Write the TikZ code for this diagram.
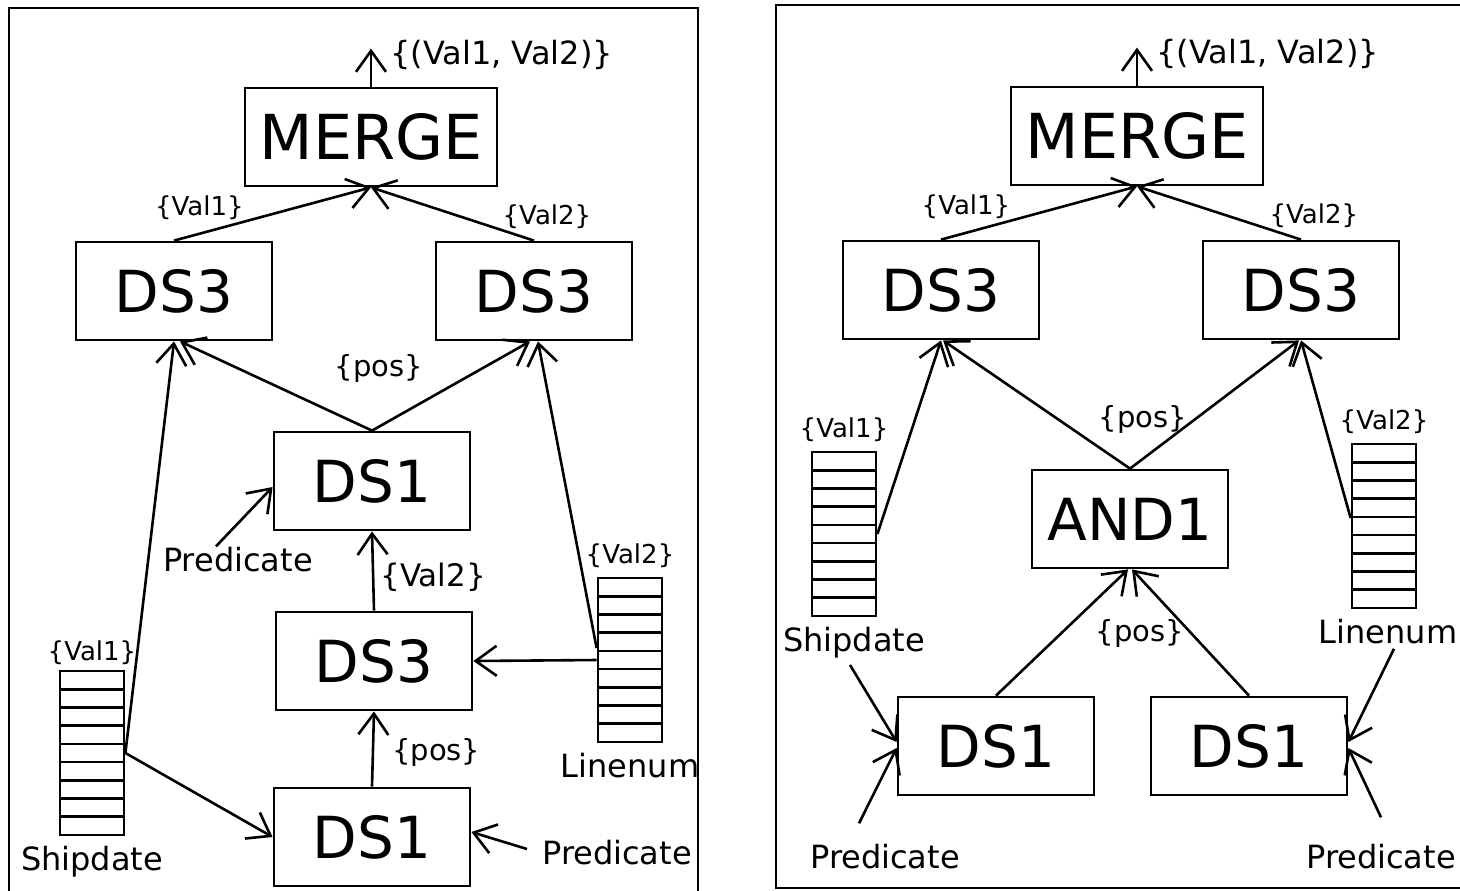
\documentclass[tikz,border=0pt]{standalone}
\usepackage{fontspec}
\setmainfont{DejaVu Sans}
\usepackage{tikz}
\usetikzlibrary{arrows.meta,positioning,calc}

\begin{document}
\begin{tikzpicture}[
    x = 0.5pt, y = -0.5pt,
    >={Straight Barb[length=10.5pt,width=15pt,line width=1.3pt]},
    line width = 1.3pt,
    op/.style = {draw, rectangle, line width=1.4pt, minimum width=98pt, minimum height=49pt,
                 inner sep=0pt, font=\fontsize{29}{30}\selectfont},
    lbl/.style = {inner sep=1pt, font=\fontsize{13}{15}\selectfont},
    poslbl/.style = {inner sep=1pt, font=\fontsize{14.5}{16}\selectfont},
    outlbl/.style = {inner sep=1pt, font=\fontsize{16}{18}\selectfont},
    colname/.style = {inner sep=1pt, font=\fontsize{16}{18}\selectfont},
    column/.style = {draw, line width=1.4pt, minimum width=32pt, minimum height=82pt, inner sep=0pt,
      path picture={
        \foreach \i in {1,...,8}
          \draw[line width=1.3pt]
            ($(path picture bounding box.north west)!\i/9!(path picture bounding box.south west)$) --
            ($(path picture bounding box.north east)!\i/9!(path picture bounding box.south east)$);
      }},
  ]
    \useasboundingbox (0,0) rectangle (1460,890);

    % left plan
    \draw[line width=1.2pt] (9,8) rectangle (698,900);

    \node[op, minimum width=126pt, font=\fontsize{31}{32}\selectfont] (merge) at (371,137) {MERGE};
    \node[op] (ds3l) at (174,291) {DS3};
    \node[op] (ds3r) at (534,291) {DS3};
    \node[op] (ds1u) at (372,481) {DS1};
    \node[op] (ds3m) at (374,661) {DS3};
    \node[op] (ds1b) at (372,837) {DS1};

    \node[column] (sd) at (92,753) {};
    \node[lbl, above=1pt of sd] {\{Val1\}};
    \node[colname, below=3pt of sd] (sdname) {Shipdate};
    \node[column] (ln) at (630,660) {};
    \node[lbl, above=3pt of ln] {\{Val2\}};
    \node[colname, below=3pt of ln] (lnname) {Linenum};

    \node[colname] (predu) at (238,560) {Predicate};
    \node[colname] (predb) at (617,853) {Predicate};
    \node[poslbl] (posu) at (379,368) {\{pos\}};

    \draw[->] (merge.north) -- ++(0,-38) node[outlbl, right=8pt, yshift=-3pt] {\{(Val1, Val2)\}};
    \draw[->] (ds3l.north) -- (merge.south) node[lbl, pos=0.36, above left, inner sep=0pt] {\{Val1\}};
    \draw[->] (ds3r.north) -- (merge.south) node[lbl, pos=0.2, above right, inner sep=0pt] {\{Val2\}};
    \draw[->] (ds1u.north) -- ([xshift=3pt]ds3l.south);
    \draw[->] (ds1u.north) -- ([xshift=-2pt]ds3r.south);
    \draw[->] (sd.east) -- (ds3l.south);
    \draw[->] ([yshift=6pt]ln.west) -- ([xshift=2pt]ds3r.south);
    \draw[->] ([xshift=-11pt,yshift=-1pt]predu.north) -- ([yshift=-3pt]ds1u.west);
    \draw[->] (ds3m.north) -- (ds1u.south)
      node[outlbl, font=\fontsize{15.5}{17}\selectfont, pos=0.5, right=2pt, yshift=-3pt] {\{Val2\}};
    \draw[->] (ln.west) -- (ds3m.east);
    \draw[->] (ds1b.north) -- (ds3m.south) node[poslbl, pos=0.45, right=8pt] {\{pos\}};
    \draw[->] (sd.east) -- (ds1b.west);
    \draw[->] ([xshift=-6pt,yshift=2pt]predb.west) -- ([yshift=2.5pt]ds1b.east);

    % right plan
    \draw[line width=1.2pt] (776,5) rectangle (1470,888);

    \node[op, minimum width=126pt, font=\fontsize{31}{32}\selectfont] (merge2) at (1137,136) {MERGE};
    \node[op] (ds3l2) at (941,290) {DS3};
    \node[op] (ds3r2) at (1301,290) {DS3};
    \node[op] (and1) at (1130,519) {AND1};
    \node[op] (ds1l2) at (996,746) {DS1};
    \node[op] (ds1r2) at (1249,746) {DS1};

    \node[column] (sd2) at (844,534) {};
    \node[lbl, above=3pt of sd2] {\{Val1\}};
    \node[colname, below=3pt of sd2, xshift=5pt] (sdname2) {Shipdate};
    \node[column] (ln2) at (1384,526) {};
    \node[lbl, above=3pt of ln2] {\{Val2\}};
    \node[colname, below=3pt of ln2, xshift=2pt] (lnname2) {Linenum};

    \node[colname] (predl2) at (885,857) {Predicate};
    \node[colname] (predr2) at (1381,857) {Predicate};
    \node[poslbl] (pos2u) at (1143,419) {\{pos\}};
    \node[poslbl] (pos2b) at (1140,633) {\{pos\}};

    \draw[->] (merge2.north) -- ++(0,-38) node[outlbl, right=8pt, yshift=-3pt] {\{(Val1, Val2)\}};
    \draw[->] (ds3l2.north) -- (merge2.south) node[lbl, pos=0.36, above left, inner sep=0pt] {\{Val1\}};
    \draw[->] (ds3r2.north) -- (merge2.south) node[lbl, pos=0.2, above right, inner sep=0pt] {\{Val2\}};
    \draw[->] (and1.north) -- ([xshift=1pt]ds3l2.south);
    \draw[->] (and1.north) -- ([xshift=-1pt]ds3r2.south);
    \draw[->] (sd2.east) -- (ds3l2.south);
    \draw[->] ([yshift=4pt]ln2.west) -- (ds3r2.south);
    \draw[->] (ds1l2.north) -- ([xshift=-1pt]and1.south);
    \draw[->] (ds1r2.north) -- ([xshift=1pt]and1.south);
    \draw[->] ([xshift=-2pt,yshift=-2pt]sdname2.south) -- ([yshift=2pt]ds1l2.west);
    \draw[->] ([xshift=-13pt,yshift=9pt]predl2.north) -- ([yshift=-1pt]ds1l2.west);
    \draw[->] ([xshift=3pt,yshift=-1pt]lnname2.south) -- ([yshift=2pt]ds1r2.east);
    \draw[->] ([yshift=12pt]predr2.north) -- ([yshift=-1pt]ds1r2.east);
\end{tikzpicture}
\end{document}
